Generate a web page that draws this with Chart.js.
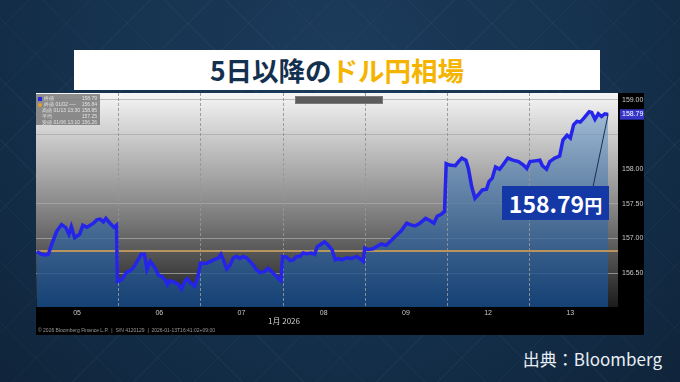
<!DOCTYPE html>
<html lang="ja">
<head>
<meta charset="utf-8">
<title>5日以降のドル円相場</title>
<script src="https://cdn.jsdelivr.net/npm/chart.js@4.4.1/dist/chart.umd.min.js"></script>
<style>
  html, body { margin: 0; padding: 0; }
  body {
    width: 680px; height: 382px; overflow: hidden; position: relative;
    font-family: "Noto Sans CJK JP", "Noto Sans", sans-serif;
    background:
      repeating-linear-gradient(45deg, rgba(255,255,255,0) 0 42px, rgba(255,255,255,0.03) 42px 43px),
      repeating-linear-gradient(-45deg, rgba(255,255,255,0) 0 42px, rgba(255,255,255,0.03) 42px 43px),
      radial-gradient(ellipse at 50% 15%, #1c3b5b 0%, #15314d 55%, #0f243a 100%);
  }
  #title {
    position: absolute; left: 74px; top: 50px; width: 526px; height: 40px;
    background: #fff; text-align: center; font-weight: 700; font-size: 26.5px;
    line-height: 40px; color: #13304f;
  }
  #title span { color: #f4b400; }
  #panel { position: absolute; left: 36px; top: 93px; width: 608px; height: 242px; background: #000; }
  #legendBox {
    position: absolute; left: 0; top: 1px; width: 64px; height: 31px;
    background: rgba(125,125,125,0.88); font-family: "Liberation Sans", sans-serif;
    font-size: 5px; line-height: 6px; color: #e2e2e2; padding-top: 1px; box-sizing: border-box;
  }
  #legendBox div { display: flex; justify-content: space-between; padding: 0 3px 0 2px; }
  .mk { display: inline-block; width: 4px; height: 4px; margin-right: 2px; vertical-align: middle; }
  #slider { position: absolute; left: 259px; top: 3px; width: 86px; height: 6px; background: #5c5c5c; border: 1px solid #7a7a7a; }
  #axisTitle { position: absolute; left: 230px; top: 222px; width: 36px; text-align: center; font-size: 8px; color: #cfcfcf; }
  #copy { position: absolute; left: 2px; top: 234px; font-family: "Liberation Sans", sans-serif; font-size: 5px; color: #9a9a9a; white-space: nowrap; }
  #callout {
    position: absolute; left: 502px; top: 186px; width: 107px; height: 34px;
    background: #1438a6; color: #fff; font-weight: 700; text-align: center; line-height: 34px;
  }
  #callout .num { font-size: 23px; }
  #callout .unit { font-size: 18px; }
  #source { position: absolute; right: 18px; top: 346px; font-size: 17px; color: #e8eef4; }
</style>
</head>
<body>
<div id="title">5日以降の<span>ドル円相場</span></div>
<div id="panel">
  <canvas id="chart"></canvas>
  <div id="legendBox">
    <div><span><i class="mk" style="background:#2a2ae4"></i>終値</span><span>158.79</span></div>
    <div><span><i class="mk" style="background:#e0a030;border-radius:50%"></i>終値 01/02 ----</span><span>156.84</span></div>
    <div><span>&nbsp;&nbsp;&nbsp;高値 01/13 13:30</span><span>158.85</span></div>
    <div><span>&nbsp;&nbsp;&nbsp;平均</span><span>157.25</span></div>
    <div><span>&nbsp;&nbsp;&nbsp;安値 01/06 13:10</span><span>156.26</span></div>
  </div>
  <div id="slider"></div>
  <div id="axisTitle">1月 2026</div>
  <div id="copy">© 2026 Bloomberg Finance L.P. &nbsp;|&nbsp; S/N 4120129 &nbsp;|&nbsp; 2026-01-13T16:41:02+09:00</div>
</div>
<div id="callout"><span class="num">158.79</span><span class="unit">円</span></div>
<div id="source">出典：Bloomberg</div>

<script>
// trading days shown on the axis
const dayLabels = ['05', '06', '07', '08', '09', '12', '13'];

// position in trading days (day index + fraction of session)
const times = [
  0.01, 0.07, 0.11, 0.15, 0.19, 0.25, 0.31, 0.36, 0.40, 0.43, 0.47, 0.53, 0.57, 0.62, 0.66, 0.70,
  0.74, 0.78, 0.82, 0.85, 0.90, 0.95, 0.98,
  0.99, 1.04, 1.10, 1.14, 1.18, 1.23, 1.28, 1.32, 1.35, 1.39, 1.45, 1.49, 1.53, 1.57, 1.60, 1.63,
  1.68, 1.73, 1.77, 1.81, 1.84, 1.88, 1.93, 1.97,
  2.00, 2.08, 2.16, 2.22, 2.25, 2.28, 2.32, 2.36, 2.40, 2.44, 2.48, 2.52, 2.56, 2.60, 2.64, 2.68,
  2.72, 2.78, 2.82, 2.87, 2.91, 2.95, 2.98,
  3.00, 3.05, 3.09, 3.13, 3.17, 3.21, 3.25, 3.29, 3.35, 3.39, 3.42, 3.47, 3.51, 3.55, 3.60, 3.64,
  3.68, 3.72, 3.78, 3.84, 3.90, 3.96, 3.98,
  4.00, 4.04, 4.10, 4.14, 4.20, 4.26, 4.33, 4.39, 4.45, 4.51, 4.55, 4.61, 4.67, 4.74, 4.79, 4.84,
  4.88, 4.93, 4.97,
  4.99, 5.03, 5.10, 5.14, 5.18, 5.23, 5.26, 5.30, 5.34, 5.38, 5.43, 5.48, 5.51, 5.55, 5.59, 5.64,
  5.68, 5.74, 5.80, 5.87, 5.93, 5.97,
  6.01, 6.07, 6.13, 6.16, 6.21, 6.25, 6.31, 6.37, 6.41, 6.46, 6.50, 6.54, 6.58, 6.62, 6.66, 6.73,
  6.76, 6.80, 6.84, 6.88, 6.92, 6.96
];

// USD/JPY
const prices = [
  156.81, 156.77, 156.76, 156.77, 156.91, 157.10, 157.20, 157.16, 157.06, 157.17, 157.01, 157.06, 157.19, 157.16, 157.19, 157.22,
  157.27, 157.28, 157.24, 157.29, 157.22, 157.16, 157.19,
  156.38, 156.40, 156.51, 156.53, 156.57, 156.67, 156.77, 156.77, 156.55, 156.67, 156.57, 156.47, 156.45, 156.40, 156.33, 156.39,
  156.37, 156.34, 156.27, 156.38, 156.42, 156.36, 156.31, 156.45,
  156.64, 156.64, 156.69, 156.72, 156.77, 156.69, 156.56, 156.61, 156.72, 156.74, 156.71, 156.74, 156.72, 156.67, 156.62, 156.55,
  156.51, 156.52, 156.57, 156.52, 156.47, 156.42, 156.39,
  156.74, 156.73, 156.68, 156.69, 156.74, 156.74, 156.79, 156.78, 156.79, 156.77, 156.88, 156.92, 156.95, 156.91, 156.84, 156.69,
  156.71, 156.69, 156.72, 156.71, 156.74, 156.69, 156.67,
  156.86, 156.84, 156.85, 156.88, 156.92, 156.90, 156.98, 157.05, 157.12, 157.22, 157.20, 157.18, 157.22, 157.29, 157.26, 157.22,
  157.32, 157.35, 157.39,
  158.08, 158.06, 158.05, 158.11, 158.16, 158.13, 158.01, 157.75, 157.58, 157.63, 157.70, 157.71, 157.82, 157.87, 158.03, 158.00,
  158.06, 158.16, 158.13, 158.11, 158.06, 158.01,
  158.11, 158.12, 158.13, 158.05, 158.00, 158.11, 158.16, 158.19, 158.42, 158.49, 158.45, 158.64, 158.69, 158.68, 158.73, 158.83,
  158.82, 158.72, 158.80, 158.76, 158.80, 158.79
];

const lastPrice = 158.79;
const prevClose = 156.82;
const yTicks = [156.5, 157.0, 157.5, 158.0, 158.5, 159.0];      // grid lines
const yTickLabels = [156.5, 157.0, 157.5, 158.0, 159.0, 158.79]; // labelled values
const xMin = 0, xMax = 7.08;
const yMin = 156.01, yMax = 159.1;

// gray backdrop of the plot
const plotBackground = {
  id: 'plotBackground',
  beforeDraw(chart) {
    const { ctx, chartArea: a } = chart;
    const g = ctx.createLinearGradient(0, a.top, 0, a.bottom);
    g.addColorStop(0, '#f6f6f6');
    g.addColorStop(0.5, '#8e8e8e');
    g.addColorStop(1, '#1c1c1c');
    ctx.save();
    ctx.fillStyle = g;
    ctx.fillRect(a.left, a.top, a.right - a.left, a.bottom - a.top);
    ctx.restore();
  }
};

// dashed lines between trading days
const daySeparators = {
  id: 'daySeparators',
  beforeDatasetsDraw(chart) {
    const { ctx, chartArea: a, scales } = chart;
    ctx.save();
    ctx.strokeStyle = 'rgba(150,150,150,0.9)';
    ctx.lineWidth = 1;
    ctx.setLineDash([3, 2]);
    for (let d = 1; d < dayLabels.length; d++) {
      const x = Math.round(scales.x.getPixelForValue(d)) + 0.5;
      ctx.beginPath();
      ctx.moveTo(x, a.top);
      ctx.lineTo(x, a.bottom);
      ctx.stroke();
    }
    ctx.restore();
  }
};

// thin line from the price box to the last point
const priceCallout = {
  id: 'priceCallout',
  afterDatasetsDraw(chart) {
    const pts = chart.getDatasetMeta(0).data;
    const last = pts[pts.length - 1];
    const ctx = chart.ctx;
    ctx.save();
    ctx.strokeStyle = '#1c2b58';
    ctx.lineWidth = 1;
    ctx.beginPath();
    ctx.moveTo(557, 94);
    ctx.lineTo(last.x, last.y);
    ctx.stroke();
    ctx.restore();
  }
};

const noPadding = (s) => {
  s.paddingTop = 0; s.paddingBottom = 0; s.paddingLeft = 0; s.paddingRight = 0;
};

const ctx = document.getElementById('chart');

new Chart(ctx, {
  type: 'line',
  data: {
    datasets: [
      {
        label: 'USD/JPY',
        data: times.map((t, i) => ({ x: t, y: prices[i] })),
        borderColor: '#2424ea',
        borderWidth: 3.5,
        pointRadius: 0,
        tension: 0,
        fill: 'start',
        backgroundColor: (c) => {
          const a = c.chart.chartArea;
          if (!a) return 'rgba(40,90,150,0.7)';
          const g = c.chart.ctx.createLinearGradient(0, a.top, 0, a.bottom);
          g.addColorStop(0, 'rgba(120,165,210,0.55)');
          g.addColorStop(0.5, 'rgba(70,118,170,0.7)');
          g.addColorStop(1, 'rgba(20,70,130,0.88)');
          return g;
        },
        order: 0
      },
      {
        label: '前日終値',
        data: [{ x: xMin, y: prevClose }, { x: xMax, y: prevClose }],
        borderColor: '#b8945e',
        borderWidth: 2,
        pointRadius: 0,
        fill: false,
        order: 1
      }
    ]
  },
  options: {
    responsive: true,
    maintainAspectRatio: false,
    animation: false,
    layout: { padding: 0 },
    plugins: {
      legend: { display: false },
      tooltip: { enabled: false },
      filler: { drawTime: 'beforeDatasetsDraw' }
    },
    scales: {
      x: {
        type: 'linear',
        min: xMin,
        max: xMax,
        afterFit: (s) => { s.height = 28; noPadding(s); },
        afterBuildTicks: (s) => { s.ticks = dayLabels.map((_, i) => ({ value: i + 0.5 })); },
        ticks: {
          autoSkip: false,
          maxRotation: 0,
          padding: 2,
          color: '#c8c8c8',
          font: { family: 'Liberation Sans', size: 7 },
          callback: (v) => dayLabels[Math.floor(v)]
        },
        grid: { display: false, drawTicks: false },
        border: { display: false }
      },
      y: {
        position: 'right',
        min: yMin,
        max: yMax,
        afterFit: (s) => { s.width = 26; noPadding(s); },
        afterBuildTicks: (s) => {
          s.ticks = yTicks.concat([lastPrice]).sort((a, b) => a - b).map((v) => ({ value: v }));
        },
        ticks: {
          autoSkip: false,
          padding: 4,
          font: { family: 'Liberation Sans', size: 7 },
          color: (c) => (c.tick && c.tick.value === lastPrice ? '#ffffff' : '#c8c8c8'),
          showLabelBackdrop: (c) => !!(c.tick && c.tick.value === lastPrice),
          backdropColor: '#3535c8',
          backdropPadding: { top: 1, bottom: 1, left: 2, right: 4 },
          callback: (v) => (yTickLabels.includes(v) ? v.toFixed(2) : '')
        },
        grid: {
          drawTicks: false,
          lineWidth: 1,
          color: (c) => (c.tick && c.tick.value === lastPrice ? 'rgba(0,0,0,0)' : 'rgba(170,170,170,0.75)')
        },
        border: { display: false }
      }
    }
  },
  plugins: [plotBackground, daySeparators, priceCallout]
});
</script>
</body>
</html>
